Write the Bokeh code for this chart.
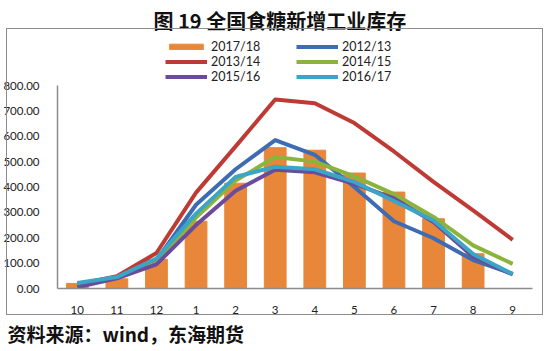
from bokeh.plotting import figure
from bokeh.models import (Legend, LegendItem, Title, NumeralTickFormatter,
                          FactorRange, Range1d, InlineStyleSheet)
from bokeh.embed import file_html
from bokeh.resources import INLINE

months = ["10", "11", "12", "1", "2", "3", "4", "5", "6", "7", "8", "9"]
s1718 = [20, 38, 115, 265, 415, 555, 545, 455, 380, 275, 137]
s1213 = [18, 45, 112, 330, 470, 585, 527, 400, 265, 198, 112, 58]
s1314 = [15, 48, 140, 378, 560, 745, 730, 652, 540, 420, 308, 192]
s1415 = [10, 42, 100, 280, 425, 518, 500, 442, 372, 282, 170, 97]
s1516 = [5, 40, 95, 250, 385, 468, 458, 412, 355, 262, 125, 55]
s1617 = [22, 45, 118, 295, 440, 480, 470, 420, 345, 268, 136, 57]
yticks = [0, 100, 200, 300, 400, 500, 600, 700, 800]

W, H = 550, 351
FL, FR, FB = 57, 532, 288      # frame edges in canvas px
Y800 = 85                      # canvas y of the 800 gridline
FT = 38                        # frame top (leaves room for the legend inside)
ymax = 800 + (Y800 - FT) * 800 / (FB - Y800)

box_css = InlineStyleSheet(css="""
:host::after {
  content: ""; position: absolute; left: 6px; top: 28px; width: 537px; height: 287px;
  border: 1.5px solid #8c8c8c; pointer-events: none; box-sizing: border-box;
}
""")

p = figure(width=W, height=H, x_range=FactorRange(*months), y_range=Range1d(0, ymax),
           output_backend="svg", toolbar_location=None,
           min_border_left=FL, min_border_right=W - FR, min_border_top=FT,
           min_border_bottom=H - FB, stylesheets=[box_css])
p.outline_line_color = None
p.xgrid.grid_line_color = None
p.ygrid.grid_line_color = None
p.background_fill_color = "white"
p.border_fill_color = "white"

bars = p.vbar(x=months[:len(s1718)], top=s1718, width=0.55, color="#E8873A")
series = [
    ("2012/13", s1213, "#3D6CB2"),
    ("2013/14", s1314, "#BE3A34"),
    ("2014/15", s1415, "#8CB43C"),
    ("2015/16", s1516, "#6A4C9B"),
    ("2016/17", s1617, "#3AA5C5"),
]
rs = {}
for name, vals, col in series:
    rs[name] = p.line(x=months, y=vals, line_width=4, line_color=col, line_join="round")

for ax in (p.xaxis[0], p.yaxis[0]):
    ax.major_tick_line_color = None
    ax.minor_tick_line_color = None
    ax.axis_line_color = "#8c8c8c"
    ax.axis_line_width = 1.5
    ax.major_label_text_font = "Lato"
    ax.major_label_text_font_size = "11.5px"
    ax.major_label_text_color = "#222222"
p.yaxis[0].formatter = NumeralTickFormatter(format="0.00")
p.yaxis[0].ticker = yticks
p.yaxis[0].bounds = (yticks[0], yticks[-1])
p.yaxis[0].major_label_standoff = 12
p.xaxis[0].major_label_standoff = 11


def mk_legend(items, vx):
    return Legend(items=items, location=(vx, FB - 84), padding=0, margin=0, spacing=0,
                  label_height=12, glyph_height=7, glyph_width=42, label_standoff=4,
                  border_line_color=None, background_fill_alpha=0,
                  label_text_font="Lato", label_text_font_size="12.5px",
                  label_text_color="#222222")


leg1 = mk_legend([LegendItem(label="2017/18", renderers=[bars]),
                  LegendItem(label="2013/14", renderers=[rs["2013/14"]]),
                  LegendItem(label="2015/16", renderers=[rs["2015/16"]])], 165 - FL)
leg2 = mk_legend([LegendItem(label="2012/13", renderers=[rs["2012/13"]]),
                  LegendItem(label="2014/15", renderers=[rs["2014/15"]]),
                  LegendItem(label="2016/17", renderers=[rs["2016/17"]])], 296 - FL)
p.add_layout(leg1)
p.add_layout(leg2)

p.title.text = "图 19  全国食糖新增工业库存"
p.title.align = "left"
p.title.offset = 153 - FL
p.title.standoff = 4
p.title.vertical_align = "top"
p.title.text_font = "Noto Sans CJK SC"
p.title.text_font_style = "bold"
p.title.text_font_size = "20px"
p.title.text_color = "#111111"

src = Title(text="资料来源：wind，东海期货", align="left", offset=-50, standoff=5,
            vertical_align="middle",
            text_font="Noto Sans CJK SC", text_font_style="bold", text_font_size="19px",
            text_color="#111111")
p.add_layout(src, "below")

open("out.html", "w").write(file_html(p, INLINE))
